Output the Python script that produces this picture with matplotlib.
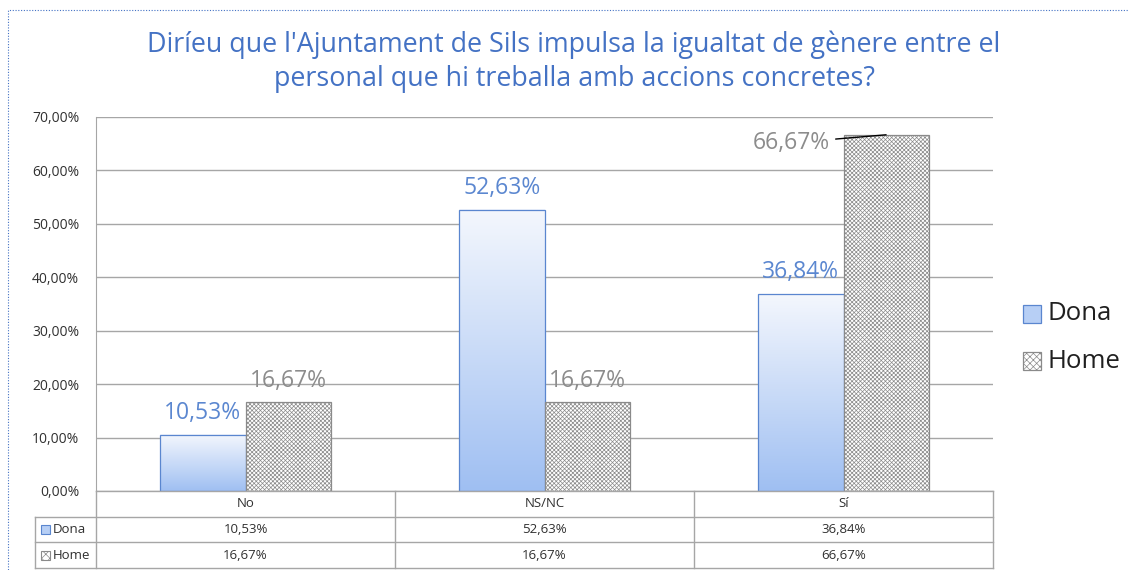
import numpy as np
import matplotlib
matplotlib.use("Agg")
import matplotlib.pyplot as plt
from matplotlib.patches import Rectangle
from matplotlib.colors import LinearSegmentedColormap

categories = ["No", "NS/NC", "Sí"]
series_names = ["Dona", "Home"]
dona = [10.53, 52.63, 36.84]
home = [16.67, 16.67, 66.67]
dona_labels = ["10,53%", "52,63%", "36,84%"]
home_labels = ["16,67%", "16,67%", "66,67%"]
yticks = [0, 10, 20, 30, 40, 50, 60, 70]
ytick_labels = ["0,00%", "10,00%", "20,00%", "30,00%", "40,00%", "50,00%", "60,00%", "70,00%"]
title = "Diríeu que l'Ajuntament de Sils impulsa la igualtat de gènere entre el\npersonal que hi treballa amb accions concretes?"

plt.rcParams['font.family'] = ['Open Sans', 'DejaVu Sans']
plt.rcParams['hatch.color'] = '#7f7f7f'
plt.rcParams['hatch.linewidth'] = 0.5

W, H = 1129, 570
fig = plt.figure(figsize=(W / 100, H / 100), dpi=100)

def fx(px):
    return px / W

def fy(py):
    return 1 - py / H

# dotted border
fig.patches.append(Rectangle((fx(8), fy(600)), fx(1200), fy(10) - fy(600), transform=fig.transFigure,
                             fill=False, edgecolor='#4472c4', linestyle=(0, (1, 1.5)), linewidth=0.8))

ax = fig.add_axes([fx(96), fy(491), fx(993) - fx(96), fy(117) - fy(491)])
x = np.arange(len(categories))
bw = 0.285
blue_edge = '#5a86cf'
bars_d = ax.bar(x - bw / 2, dona, bw, facecolor='none', edgecolor=blue_edge, linewidth=0.9, zorder=3)
bars_h = ax.bar(x + bw / 2, home, bw, facecolor='white', edgecolor='#8a8a8a', hatch='xxxxxxxx', linewidth=0.9, zorder=3)

cmap = LinearSegmentedColormap.from_list('g', ['#f4f7fd', '#9fbff2'])
grad = np.linspace(0, 1, 256).reshape(-1, 1)
for b in bars_d:
    x0, w, h = b.get_x(), b.get_width(), b.get_height()
    ax.imshow(grad, extent=[x0, x0 + w, 0, h], aspect='auto', cmap=cmap, origin='upper', zorder=2)

ax.set_xlim(-0.5, 2.5)
ax.set_ylim(0, 70)
ax.set_yticks(yticks)
ax.set_yticklabels(ytick_labels, fontsize=10, color='#303030')
ax.set_xticks([])
ax.tick_params(axis='y', length=0, pad=12)
ax.grid(axis='y', color='#a6a6a6', linewidth=1.0, zorder=0)
for s in ['top', 'right', 'bottom']:
    ax.spines[s].set_visible(False)
ax.spines['left'].set_color('#a6a6a6')
ax.set_axisbelow(True)

for i in range(len(categories)):
    ax.annotate(dona_labels[i], xy=(x[i] - bw / 2, dona[i]), xytext=(0, 22), textcoords='offset pixels',
                ha='center', va='center', fontsize=16.5, color='#5b87d0', zorder=5)
    if i < 2:
        ax.annotate(home_labels[i], xy=(x[i] + bw / 2, home[i]), xytext=(0, 21), textcoords='offset pixels',
                    ha='center', va='center', fontsize=16.5, color='#8c8c8c', zorder=5)
    else:
        ax.annotate(home_labels[i], xy=(x[i] + bw / 2, home[i]), xytext=(-56, -8), textcoords='offset pixels',
                    ha='right', va='center', fontsize=16.5, color='#8c8c8c', zorder=5,
                    arrowprops=dict(arrowstyle='-', color='black', lw=1.0, shrinkA=2, shrinkB=0))

fig.text(fx(574), fy(62), title, ha='center', va='center', fontsize=19.4, color='#4472c4', linespacing=1.3)

# data table
tab = fig.add_axes([fx(96), fy(568), fx(993) - fx(96), fy(491) - fy(568)])
tab.set_xlim(-0.5, 2.5)
tab.set_ylim(3, 0)
tab.axis('off')
lc = '#a6a6a6'
xl = -0.5 - (96 - 35) / 299
for yy in [1, 2, 3]:
    tab.plot([xl, 2.5], [yy, yy], color=lc, lw=1, clip_on=False)
tab.plot([-0.5, 2.5], [0, 0], color=lc, lw=1, clip_on=False)
tab.plot([xl, xl], [1, 3], color=lc, lw=1, clip_on=False)
for xx in [-0.5, 0.5, 1.5, 2.5]:
    tab.plot([xx, xx], [0, 3], color=lc, lw=1, clip_on=False)
for i, c in enumerate(categories):
    tab.text(x[i], 0.5, c, ha='center', va='center', fontsize=9.5, color='#303030')
    tab.text(x[i], 1.5, dona_labels[i], ha='center', va='center', fontsize=9.5, color='#303030')
    tab.text(x[i], 2.5, home_labels[i], ha='center', va='center', fontsize=9.5, color='#303030')
# row headers with keys
sq = 0.03
tab.add_patch(Rectangle((xl + 0.02, 1.5 - 0.17), sq, 0.34, facecolor='#b7cff5', edgecolor=blue_edge, lw=0.8, clip_on=False))
tab.add_patch(Rectangle((xl + 0.02, 2.5 - 0.17), sq, 0.34, facecolor='white', edgecolor='#8a8a8a', hatch='xxxx', lw=0.8, clip_on=False))
tab.text(xl + 0.06, 1.5, series_names[0], ha='left', va='center', fontsize=9.5, color='#303030')
tab.text(xl + 0.06, 2.5, series_names[1], ha='left', va='center', fontsize=9.5, color='#303030')

# legend
leg_y = [314, 361]
fig.patches.append(Rectangle((fx(1023), fy(323)), fx(18), fy(305) - fy(323), transform=fig.transFigure,
                             facecolor='#b7cff5', edgecolor=blue_edge, lw=0.9))
fig.patches.append(Rectangle((fx(1023), fy(370)), fx(18), fy(352) - fy(370), transform=fig.transFigure,
                             facecolor='white', edgecolor='#8a8a8a', hatch='xxxxx', lw=0.9))
for name, yy in zip(series_names, leg_y):
    fig.text(fx(1047), fy(yy), name, ha='left', va='center', fontsize=18.5, color='#202020')

fig.savefig('out.png', dpi=100)
